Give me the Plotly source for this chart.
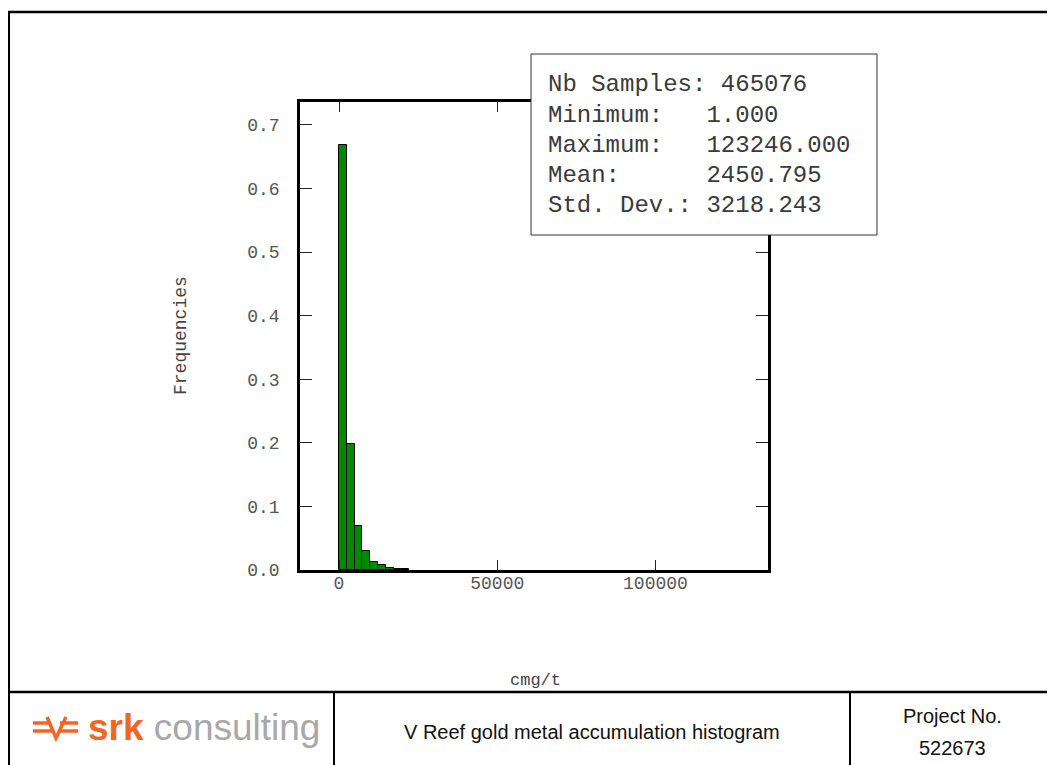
import plotly.graph_objects as go

# ---- data ----
bin_min = 1.0
bin_max = 123246.0
n_bins = 50
frequencies = [0.669, 0.1986, 0.0699, 0.0295, 0.0129, 0.0071, 0.0035, 0.0019, 0.0008] + [None] * 41
x_ticks = [0, 50000, 100000]
y_ticks = [0.0, 0.1, 0.2, 0.3, 0.4, 0.5, 0.6, 0.7]
stats_labels = ["Nb Samples:", "Minimum:", "Maximum:", "Mean:", "Std. Dev.:"]
stats_values = ["465076", "1.000", "123246.000", "2450.795", "3218.243"]
x_title = "cmg/t"
y_title = "Frequencies"
footer_title = "V Reef gold metal accumulation histogram"
project_label = "Project No."
project_no = "522673"

width = (bin_max - bin_min) / n_bins
lefts = [bin_min + i * width for i in range(n_bins)]
span = bin_max - bin_min
fmax = max(f for f in frequencies if f is not None)

OFF = 8  # page body margin
W, H = 1055 - OFF, 765 - OFF
L, R, T, B = 300, 768, 102, 570  # plot area in page pixels
pw, ph = R - L, B - T


def px(x):
    return (x - L) / pw


def py(y):
    return (B - y) / ph


fig = go.Figure()
fig.add_trace(go.Bar(
    x=lefts, y=frequencies, width=[width] * n_bins, offset=0,
    marker=dict(color="#008a00", line=dict(color="black", width=1)),
    hoverinfo="skip",
))

mono = "Liberation Mono, Courier New, monospace"
sans = "Liberation Sans, Arial, sans-serif"

fig.update_layout(
    width=W, height=H,
    margin=dict(l=L - OFF, r=W - (R - OFF), t=T - OFF, b=H - (B - OFF), pad=0),
    paper_bgcolor="white", plot_bgcolor="white",
    showlegend=False, bargap=0,
    font=dict(family=mono, size=18, color="#555"),
)
fig.update_xaxes(
    range=[bin_min - 0.1 * span, bin_max + 0.1 * span],
    tickvals=x_ticks, tickformat="d",
    ticks="inside", ticklen=10, tickwidth=1, tickcolor="#222",
    showline=True, linewidth=2.5, linecolor="black", mirror="ticks",
    showgrid=False, zeroline=False,
    ticklabelstandoff=-5,
    tickfont=dict(family=mono, size=18, color="#555"),
)
fig.update_yaxes(
    range=[0, fmax * 1.1],
    tickvals=y_ticks, tickformat=".1f",
    ticks="inside", ticklen=12, tickwidth=1, tickcolor="#222",
    showline=True, linewidth=2.5, linecolor="black", mirror="ticks",
    showgrid=False, zeroline=False,
    ticklabelstandoff=14,
    tickfont=dict(family=mono, size=18, color="#555"),
)

shapes = []
# outer frame lines
shapes.append(dict(type="line", xref="paper", yref="paper", x0=px(8), x1=px(1060), y0=py(12), y1=py(12),
                   line=dict(color="black", width=2.5)))
shapes.append(dict(type="line", xref="paper", yref="paper", x0=px(9), x1=px(9), y0=py(11), y1=py(770),
                   line=dict(color="black", width=2)))
shapes.append(dict(type="line", xref="paper", yref="paper", x0=px(8), x1=px(1060), y0=py(692), y1=py(692),
                   line=dict(color="black", width=2.5)))
shapes.append(dict(type="line", xref="paper", yref="paper", x0=px(334), x1=px(334), y0=py(692), y1=py(770),
                   line=dict(color="black", width=2)))
shapes.append(dict(type="line", xref="paper", yref="paper", x0=px(850), x1=px(850), y0=py(692), y1=py(770),
                   line=dict(color="black", width=2)))
# stats box
shapes.append(dict(type="rect", xref="paper", yref="paper", x0=px(531), x1=px(877), y0=py(54), y1=py(235),
                   line=dict(color="#333", width=1), fillcolor="white", layer="above"))

# logo symbol (approximation)
orange = "#f26522"
logo_path = (f"M {px(33)},{py(723)} L {px(50)},{py(723)} "
             f"M {px(33)},{py(731)} L {px(52)},{py(731)} "
             f"M {px(47)},{py(717)} L {px(56)},{py(738)} L {px(66)},{py(717)} "
             f"M {px(60)},{py(723)} L {px(78)},{py(723)} "
             f"M {px(58)},{py(731)} L {px(78)},{py(731)}")
shapes.append(dict(type="path", xref="paper", yref="paper", path=logo_path,
                   line=dict(color=orange, width=3.5)))
fig.update_layout(shapes=shapes)


def note(x, y, text, font, **kw):
    d = dict(xref="paper", yref="paper", x=px(x), y=py(y), text=text, showarrow=False,
             xanchor="center", yanchor="middle", font=font)
    d.update(kw)
    return d


ann = []
for i, (lab, val) in enumerate(zip(stats_labels, stats_values)):
    line = f"{lab:<10} {val}".replace(" ", "&nbsp;")
    ann.append(note(546, 85 + 30 * i, line, dict(family=mono, size=24, color="#3a3a3a"),
                    xanchor="left", align="left"))
ann.append(note(535, 680, x_title, dict(family=mono, size=17, color="#444")))
ann.append(note(181, 336, y_title, dict(family=mono, size=18, color="#444"), textangle=-90))
ann.append(note(592, 732, footer_title, dict(family=sans, size=20, color="#111")))
ann.append(note(952, 716, project_label, dict(family=sans, size=20, color="#111")))
ann.append(note(952, 748, project_no, dict(family=sans, size=20, color="#111")))
ann.append(note(86, 727,
                f"<span style='color:{orange}'><b>srk</b></span> <span style='color:#a8a8a8'>consulting</span>",
                dict(family=sans, size=37), xanchor="left"))
fig.update_layout(annotations=ann)

fig.write_html("out.html")
